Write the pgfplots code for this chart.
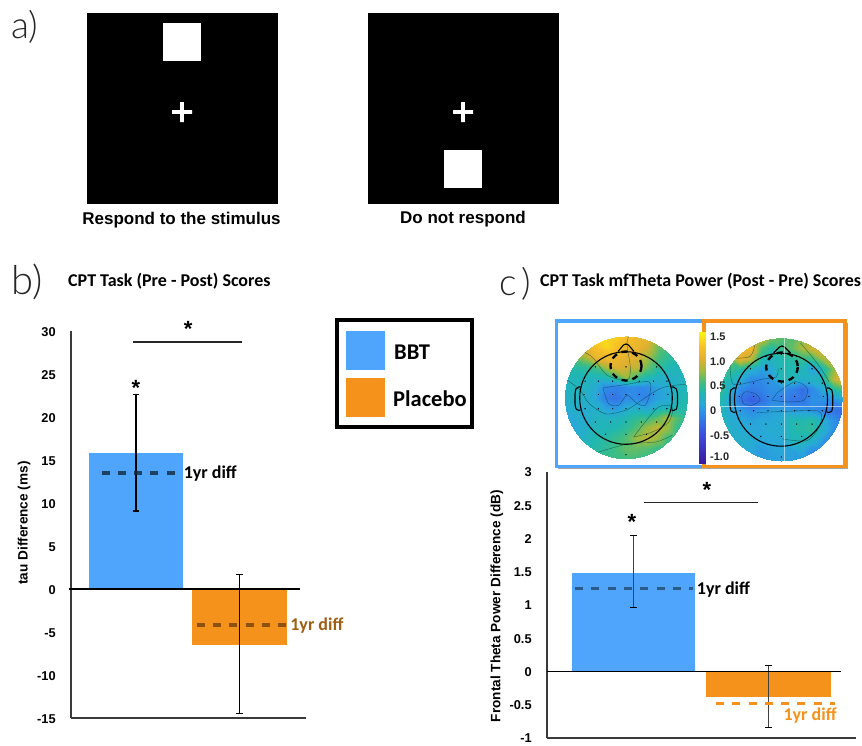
\documentclass[border=0pt]{standalone}
\usepackage{fontspec}
\setmainfont{Liberation Sans}
\newfontfamily\calb[BoldFont={Carlito Bold}]{Carlito}
\newfontfamily\thinf{Lato Light}
\usepackage{pgfplots}
\pgfplotsset{compat=1.18}
\definecolor{bbt}{HTML}{4FA5FB}
\definecolor{plc}{HTML}{F4921C}
\definecolor{axc}{HTML}{3A3A3A}
\newcommand{\fs}[1]{\fontsize{#1}{#1}\selectfont}

% bar axes: 1 px of the reference = 1pt here
\pgfplotsset{
  barax/.style={
    scale only axis, clip=false,
    axis x line=bottom, axis y line=left,
    axis line style={-, axc, line width=1.2pt},
    xtick=\empty, ytick style={draw=none},
    /pgf/number format/assume math mode=true,
    /pgf/number format/fixed,
    yticklabel style={font=\fs{12.8}\bfseries, inner sep=0pt, anchor=east},
    ylabel style={font=\fs{13.6}\bfseries, anchor=center},
  },
  % scalp maps, z is power in dB
  topo/.style={
    scale only axis, hide axis, view={0}{90},
    xmin=-6, xmax=6, ymin=-6, ymax=6, anchor=center, clip=false,
    colormap={parul}{
      rgb255(0)=(58,26,158); rgb255(25)=(60,80,224); rgb255(41)=(47,138,232);
      rgb255(49)=(40,168,216); rgb255(59)=(32,184,176); rgb255(67)=(64,189,128);
      rgb255(77)=(156,187,64); rgb255(87)=(224,176,48); rgb255(97)=(248,192,40);
      rgb255(109)=(248,244,20)},
    point meta min=-1.125, point meta max=1.6,
  },
  zgrid/.style={surf, shader=interp, mesh/cols=13},
  contourln/.style={line width=0.4pt, color=black!60!teal, opacity=0.6, smooth, no markers},
  dots/.style={only marks, mark=*, mark size=0.4pt, black},
}

\begin{document}
\begin{tikzpicture}

\begin{scope}[x=1pt,y=-1pt]
\path[use as bounding box] (0,0) rectangle (862,745);

% a) stimuli
\fill[black] (87,13) rectangle (278,204);
\fill[white] (163,23) rectangle (201,61);
\fill[white] (172,110.2) rectangle (192,113.8) (180.2,102) rectangle (183.8,122);
\fill[black] (368,13) rectangle (559,204);
\fill[white] (444,150) rectangle (482,188);
\fill[white] (453,110.2) rectangle (473,113.8) (461.2,102) rectangle (464.8,122);
\node[font=\fs{17}\bfseries, inner sep=0pt] at (181.5,220.5) {Respond to the stimulus};
\node[font=\fs{17}\bfseries, inner sep=0pt] at (463,219.5) {Do not respond};

% panel letters
\node[font=\thinf\fs{37}, text=black!85, inner sep=0pt, anchor=west] at (11,27) {a)};
\node[font=\thinf\fs{40}, text=black!85, inner sep=0pt, anchor=west] at (11,282) {b)};
\node[font=\thinf\fs{37}, text=black!85, inner sep=0pt, anchor=west] at (499,284) {c\hspace{5pt})};
\node[font=\calb\fs{18}\bfseries, inner sep=0pt, anchor=west] at (68,281) {CPT Task (Pre - Post) Scores};
\node[font=\calb\fs{18}\bfseries, inner sep=0pt, anchor=west] at (540,281) {CPT Task mfTheta Power (Post - Pre) Scores};

% legend
\draw[black, line width=3.5pt] (337,320) rectangle (472,427);
\fill[bbt] (346,331) rectangle (385,370);
\fill[plc] (346,378) rectangle (385,417);
\node[font=\calb\fs{22.5}\bfseries, inner sep=0pt, anchor=west] at (394,352) {BBT};
\node[font=\calb\fs{22.5}\bfseries, inner sep=0pt, anchor=west] at (393,399) {Placebo};

% frames round the maps
\fill[black!35] (558,323) rectangle (847.5,469);
\fill[white] (557,321) rectangle (845,466.5);
\draw[bbt, line width=3.4pt] (704,321) -- (556.7,321) -- (556.7,466.5) -- (704,466.5);
\draw[plc, line width=3.4pt] (704,321) rectangle (845,466.5);
\end{scope}

% left map
\begin{scope}
\clip (626pt,-397.5pt) circle (61.3pt);
\begin{axis}[topo, at={(626pt,-397.5pt)}, width=122.6pt, height=122.6pt]
\addplot3[zgrid] table[row sep=crcr, header=false, x expr={mod(\coordindex,13)-6}, y expr={6-floor(\coordindex/13)}, z index=0] {
1.4\\1.4\\1.4\\1.4\\1.45\\1.4\\1.3\\1.2\\1.2\\1.0\\0.8\\0.6\\0.5\\
1.0\\1.0\\1.1\\1.3\\1.45\\1.3\\1.15\\1.15\\1.05\\0.7\\0.6\\0.5\\0.4\\
0.7\\0.7\\0.85\\1.15\\1.2\\1.15\\1.1\\1.05\\0.85\\0.6\\0.45\\0.4\\0.35\\
0.35\\0.4\\0.45\\0.55\\0.85\\1.05\\1.0\\0.95\\0.7\\0.45\\0.35\\0.3\\0.3\\
0.25\\0.3\\0.3\\0.3\\0.35\\0.55\\0.8\\0.55\\0.35\\0.25\\0.2\\0.25\\0.3\\
0.25\\0.3\\0.25\\0.15\\-0.1\\-0.15\\-0.1\\-0.1\\-0.1\\0.05\\0.15\\0.25\\0.3\\
0.2\\0.25\\0.2\\0.1\\-0.2\\-0.25\\-0.1\\-0.1\\-0.15\\0.05\\0.1\\0.3\\0.35\\
0.15\\0.2\\0.15\\0.2\\0.05\\0.0\\0.15\\0.2\\0.1\\0.25\\0.3\\0.35\\0.4\\
0.1\\0.15\\0.15\\0.25\\0.25\\0.25\\0.35\\0.45\\0.5\\0.65\\0.85\\0.6\\0.45\\
0.1\\0.1\\0.2\\0.3\\0.3\\0.35\\0.45\\0.6\\0.8\\0.95\\0.8\\0.5\\0.4\\
0.15\\0.2\\0.25\\0.35\\0.4\\0.5\\0.6\\0.8\\0.9\\0.8\\0.55\\0.45\\0.4\\
0.3\\0.3\\0.35\\0.4\\0.45\\0.55\\0.65\\0.65\\0.6\\0.5\\0.45\\0.4\\0.4\\
0.45\\0.45\\0.5\\0.5\\0.55\\0.55\\0.55\\0.55\\0.5\\0.5\\0.45\\0.45\\0.45\\
};
\addplot3[contourln] coordinates {(-2.26,.95,0)(-.39,1.21,0)(2.23,1.54,0)(2.33,.39,0)(1.9,-.75,0)(1.08,-.59,0)(.1,.23,0)(-.72,-.75,0)(-1.7,-.59,0)(-2.26,.95,0)};
\addplot3[contourln] coordinates {(-4.16,4.49,0)(-3.18,3.84,0)(-1.87,2.2,0)(.1,1.7,0)(.43,2.85,0)(.1,5.15,0)(.26,5.97,0)};
\addplot3[contourln] coordinates {(.75,-3.87,0)(1.74,-2.56,0)(3.21,-.92,0)(4.52,-.92,0)(4.2,-2.39,0)(2.56,-3.38,0)(.75,-3.87,0)};
\addplot3[contourln] coordinates {(-2.69,-5.34,0)(.26,-4.52,0)(2.89,-4.36,0)(4.52,-3.7,0)};
\addplot3[contourln] coordinates {(-5.97,1.87,0)(-4.5,.72,0)(-3.6,-.6,0)(-2,-1.6,0)(-.2,-1.3,0)(.6,-.9,0)(3.4,.9,0)(5.9,1.3,0)};
\addplot3[dots] coordinates {(-1.5,4.2,0)(0,4.4,0)(1.5,4.2,0)(-3,3,0)(-1.5,3,0)(0,3,0)(1.5,3,0)(3,3,0)(-4,1.6,0)(-2.7,1.6,0)(-1.3,1.6,0)(0,1.6,0)(1.3,1.6,0)(2.7,1.6,0)(4,1.6,0)(-4.1,.3,0)(-2.7,.3,0)(-1.3,.3,0)(0,.3,0)(1.3,.3,0)(2.7,.3,0)(4.1,.3,0)(-4,-1.1,0)(-2.7,-1.1,0)(-1.3,-1.1,0)(0,-1.1,0)(1.3,-1.1,0)(2.7,-1.1,0)(4,-1.1,0)(-3,-2.4,0)(-1.5,-2.4,0)(0,-2.4,0)(1.5,-2.4,0)(3,-2.4,0)(-2,-3.6,0)(0,-3.6,0)(2,-3.6,0)(0,-5.6,0)};
\end{axis}
\end{scope}

% right map
\begin{scope}
\clip (781.3pt,-399.5pt) circle (61.5pt);
\begin{axis}[topo, at={(781.3pt,-399.5pt)}, width=123pt, height=123pt]
\addplot3[zgrid] table[row sep=crcr, header=false, x expr={mod(\coordindex,13)-6}, y expr={6-floor(\coordindex/13)}, z index=0] {
1.2\\1.2\\1.2\\1.2\\1.0\\0.7\\0.6\\0.6\\0.7\\0.9\\1.0\\1.1\\1.1\\
1.0\\1.1\\1.2\\1.2\\0.6\\0.4\\0.5\\0.65\\0.85\\1.0\\1.1\\1.1\\1.1\\
0.7\\0.7\\1.1\\0.9\\0.35\\0.25\\0.35\\0.4\\0.5\\0.5\\0.8\\0.9\\1.0\\
0.5\\0.5\\0.4\\0.2\\0.05\\0.1\\0.35\\0.35\\0.3\\0.05\\0.3\\0.75\\1.0\\
0.4\\0.35\\0.15\\-0.1\\-0.1\\0.0\\0.3\\0.3\\0.2\\0.25\\0.3\\0.9\\1.2\\
0.5\\0.2\\-0.1\\-0.2\\-0.15\\-0.05\\-0.05\\-0.15\\-0.3\\-0.1\\0.1\\0.4\\0.6\\
0.35\\0.1\\-0.25\\-0.4\\-0.3\\-0.1\\-0.15\\-0.25\\-0.25\\-0.05\\-0.05\\-0.05\\0.05\\
0.3\\0.1\\0.0\\-0.1\\0.0\\0.05\\0.05\\0.0\\0.0\\-0.05\\-0.15\\-0.25\\-0.3\\
0.3\\0.15\\0.1\\0.05\\0.1\\0.1\\0.15\\0.35\\0.35\\0.4\\0.2\\-0.05\\-0.2\\
0.3\\0.2\\0.15\\0.1\\0.1\\0.15\\0.15\\0.35\\0.4\\0.45\\0.2\\-0.05\\-0.2\\
0.25\\0.2\\0.2\\0.15\\0.1\\0.1\\0.1\\0.3\\0.3\\0.2\\0.0\\-0.2\\-0.25\\
0.2\\0.15\\0.15\\0.1\\0.0\\0.05\\0.1\\0.05\\0.1\\-0.1\\-0.15\\-0.25\\-0.25\\
0.1\\0.1\\0.1\\0.05\\0.05\\0.05\\0.05\\0.05\\0.0\\-0.1\\-0.15\\-0.2\\-0.2\\
};
\addplot3[contourln] coordinates {(-3.87,.26,0)(-3.54,.75,0)(-2.56,.59,0)(-2.07,-.07,0)(-2.89,-.56,0)(-3.7,-.39,0)(-3.87,.26,0)};
\addplot3[contourln] coordinates {(-.92,-.07,0)(-.26,.75,0)(1.38,1.74,0)(2.52,1.08,0)(2.2,-.07,0)(.56,-.23,0)(-.92,-.07,0)};
\addplot3[contourln] coordinates {(-4.5,4.03,0)(-3.05,4.2,0)(-2.56,5.34,0)};
\addplot3[contourln] coordinates {(-2.39,-1.28,0)(.56,-1.15,0)(3.67,-1.15,0)(3.77,-2.52,0)(2.52,-4,0)(.07,-3.84,0)};
\addplot3[contourln] coordinates {(4.66,1.74,0)(3.84,3.05,0)(2.85,4.36,0)(1.87,5.5,0)};
\addplot3[contourln] coordinates {(-5,3.3,0)(-4.7,1.5,0)(-3,1.7,0)(-1.8,2,0)(-.5,2.2,0)(-.3,3,0)};
\addplot3[dots] coordinates {(-1.5,4.2,0)(0,4.4,0)(1.5,4.2,0)(-3,3,0)(-1.5,3,0)(0,3,0)(1.5,3,0)(3,3,0)(-4,1.6,0)(-2.7,1.6,0)(-1.3,1.6,0)(0,1.6,0)(1.3,1.6,0)(2.7,1.6,0)(4,1.6,0)(-4.1,.3,0)(-2.7,.3,0)(-1.3,.3,0)(0,.3,0)(1.3,.3,0)(2.7,.3,0)(4.1,.3,0)(-4,-1.1,0)(-2.7,-1.1,0)(-1.3,-1.1,0)(0,-1.1,0)(1.3,-1.1,0)(2.7,-1.1,0)(4,-1.1,0)(-3,-2.4,0)(-1.5,-2.4,0)(0,-2.4,0)(1.5,-2.4,0)(3,-2.4,0)(-2,-3.6,0)(0,-3.6,0)(2,-3.6,0)(0,-5.6,0)};
\end{axis}
\end{scope}

% colour bar of the maps
\begin{axis}[scale only axis, hide axis, view={0}{90}, anchor=south west,
    at={(699pt,-463pt)}, width=7.7pt, height=131.3pt,
    xmin=0, xmax=1, ymin=-1.125, ymax=1.61,
    colormap={parul}{
      rgb255(0)=(58,26,158); rgb255(25)=(60,80,224); rgb255(41)=(47,138,232);
      rgb255(49)=(40,168,216); rgb255(59)=(32,184,176); rgb255(67)=(64,189,128);
      rgb255(77)=(156,187,64); rgb255(87)=(224,176,48); rgb255(97)=(248,192,40);
      rgb255(109)=(248,244,20)},
    point meta min=-1.125, point meta max=1.6]
\addplot3[surf, shader=interp, mesh/cols=2] coordinates {
  (0,-1.125,-1.125)(1,-1.125,-1.125)
  (0,-0.5,-0.5)(1,-0.5,-0.5)
  (0,-0.1,-0.1)(1,-0.1,-0.1)
  (0,0.1,0.1)(1,0.1,0.1)
  (0,0.35,0.35)(1,0.35,0.35)
  (0,0.55,0.55)(1,0.55,0.55)
  (0,0.8,0.8)(1,0.8,0.8)
  (0,1.05,1.05)(1,1.05,1.05)
  (0,1.3,1.3)(1,1.3,1.3)
  (0,1.6,1.6)(1,1.6,1.6)};
\end{axis}

% b) tau difference
\begin{axis}[barax, at={(71pt,-718pt)}, anchor=south west, width=235pt, height=387pt,
    xmin=-0.628, xmax=1.643, ymin=-15, ymax=30, ytick={-15,-10,...,30},
    yticklabel style={xshift=-13pt, yshift=-1pt},
    ylabel={tau Difference (ms)},
    ylabel style={at={(axis description cs:-0.2,0.504)}},
    ybar, bar shift=0pt]
\addplot[fill=bbt, draw=none, bar width=93.7pt,
    error bars/.cd, y dir=both, y explicit,
    error bar style={black, line width=1.6pt},
    error mark options={rotate=90, black, mark size=3.4pt, line width=1.3pt}]
  coordinates {(0,15.8) += (0,6.8) -= (0,6.73)};
\addplot[fill=plc, draw=none, bar width=95.3pt,
    error bars/.cd, y dir=both, y explicit,
    error bar style={black, line width=1pt},
    error mark options={rotate=90, black, mark size=3.4pt, line width=1.3pt}]
  coordinates {(1,-6.5) += (0,8.16) -= (0,8)};
\addplot[sharp plot, black, line width=1.5pt, forget plot] coordinates {(-0.65,0)(1.585,0)};
\addplot[sharp plot, black!85, line width=1.6pt, forget plot] coordinates {(-0.03,28.7)(1.02,28.7)};
\addplot[sharp plot, color=black!75!bbt, opacity=0.8, line width=3.6pt, dash pattern=on 8pt off 8.2pt] coordinates {(-0.33,13.5)(0.38,13.5)};
\addplot[sharp plot, color=black!50!plc, opacity=0.85, line width=4pt, dash pattern=on 8pt off 8.2pt] coordinates {(0.59,-4.2)(1.45,-4.2)};
\node[font=\calb\fs{18}\bfseries, inner sep=0pt, anchor=west] at (axis cs:0.46,13.4) {1yr diff};
\node[font=\calb\fs{18}\bfseries, text=black!35!plc, inner sep=0pt, anchor=west] at (axis cs:1.49,-4.2) {1yr diff};
\node[font=\fs{22}\bfseries, inner sep=0pt] at (axis cs:0.505,30.2) {*};
\node[font=\fs{22}\bfseries, inner sep=0pt] at (axis cs:0,23.4) {*};
\end{axis}

% c) theta power
\begin{axis}[barax, at={(547pt,-738pt)}, anchor=south west, width=309pt, height=266pt,
    xmin=-0.638, xmax=1.647, ymin=-1, ymax=3, ytick={-1,-0.5,...,3},
    yticklabel style={xshift=-13pt, yshift=-0.5pt},
    ylabel={Frontal Theta Power Difference (dB)},
    ylabel style={at={(axis description cs:-0.162,0.496)}},
    ybar, bar shift=0pt]
\addplot[fill=bbt, draw=none, bar width=123.3pt,
    error bars/.cd, y dir=both, y explicit,
    error bar style={black!75, line width=0.9pt},
    error mark options={rotate=90, black, mark size=3.4pt, line width=1pt}]
  coordinates {(0,1.485) += (0,0.555) -= (0,0.525)};
\addplot[fill=plc, draw=none, bar width=125pt,
    error bars/.cd, y dir=both, y explicit,
    error bar style={black!75, line width=0.9pt},
    error mark options={rotate=90, black, mark size=3.4pt, line width=1pt}]
  coordinates {(1,-0.38) += (0,0.47) -= (0,0.46)};
\addplot[sharp plot, black, line width=1.5pt, forget plot] coordinates {(-0.638,0)(1.536,0)};
\addplot[sharp plot, black!85, line width=1.5pt, forget plot] coordinates {(0.08,2.54)(0.925,2.54)};
\addplot[sharp plot, color=black!45!bbt, line width=3pt, dash pattern=on 8pt off 8.3pt] coordinates {(-0.43,1.245)(0.445,1.245)};
\addplot[sharp plot, color=plc, line width=3.4pt, dash pattern=on 8pt off 8.3pt] coordinates {(0.611,-0.48)(1.49,-0.48)};
\node[font=\calb\fs{18}\bfseries, inner sep=0pt, anchor=west] at (axis cs:0.469,1.235) {1yr diff};
\node[font=\calb\fs{18}\bfseries, text=plc, inner sep=0pt, anchor=west] at (axis cs:1.11,-0.66) {1yr diff};
\node[font=\fs{22}\bfseries, inner sep=0pt] at (axis cs:0.545,2.735) {*};
\node[font=\fs{22}\bfseries, inner sep=0pt] at (axis cs:-0.01,2.255) {*};
\end{axis}

% head outlines and labels over the maps
\begin{scope}[x=1pt,y=-1pt]
\begin{scope}[black, line width=1.1pt]
\draw (626,398) circle (46.3);
\draw (618,351.5) -- (623.5,345) .. controls (625,343.6) and (627,343.6) .. (628.5,345) -- (634,351.5);
\draw[rounded corners=2pt] (580.5,387) -- (576.5,387) -- (575,392) -- (575,406) -- (577,411) -- (580.5,410);
\draw[rounded corners=2pt] (671.5,387) -- (675.5,387) -- (677.5,392) -- (677.5,406) -- (675.5,411) -- (671.5,410);
\draw (781,399.7) circle (46.5);
\draw (773.5,353) -- (779.5,347) .. controls (781,345.6) and (783,345.6) .. (784.5,347) -- (790.5,353);
\draw[rounded corners=2pt] (735.5,388) -- (731.5,388) -- (730,393) -- (730,408) -- (732,413) -- (735.5,412);
\draw[rounded corners=2pt] (827,388) -- (831,388) -- (832.7,393) -- (832.7,408) -- (831,413) -- (827,412);
\end{scope}
\draw[black, line width=2.3pt, dash pattern=on 6pt off 5pt] (626,366) ellipse (15.5 and 14.5);
\draw[black, line width=2.3pt, dash pattern=on 6pt off 5pt] (782,367) ellipse (15.8 and 14.5);
\draw[white, opacity=0.55, line width=0.6pt] (784,337) -- (784,461) (720,406.7) -- (843,406.7);
\foreach \y/\t in {336.7/1.5,361.7/1.0,386/0.5,411/0,436/-0.5,456.7/-1.0}
  \node[font=\fs{11}\bfseries, text=black!85, inner sep=0pt, anchor=west] at (710,\y) {\t};
\end{scope}
\end{tikzpicture}
\end{document}
